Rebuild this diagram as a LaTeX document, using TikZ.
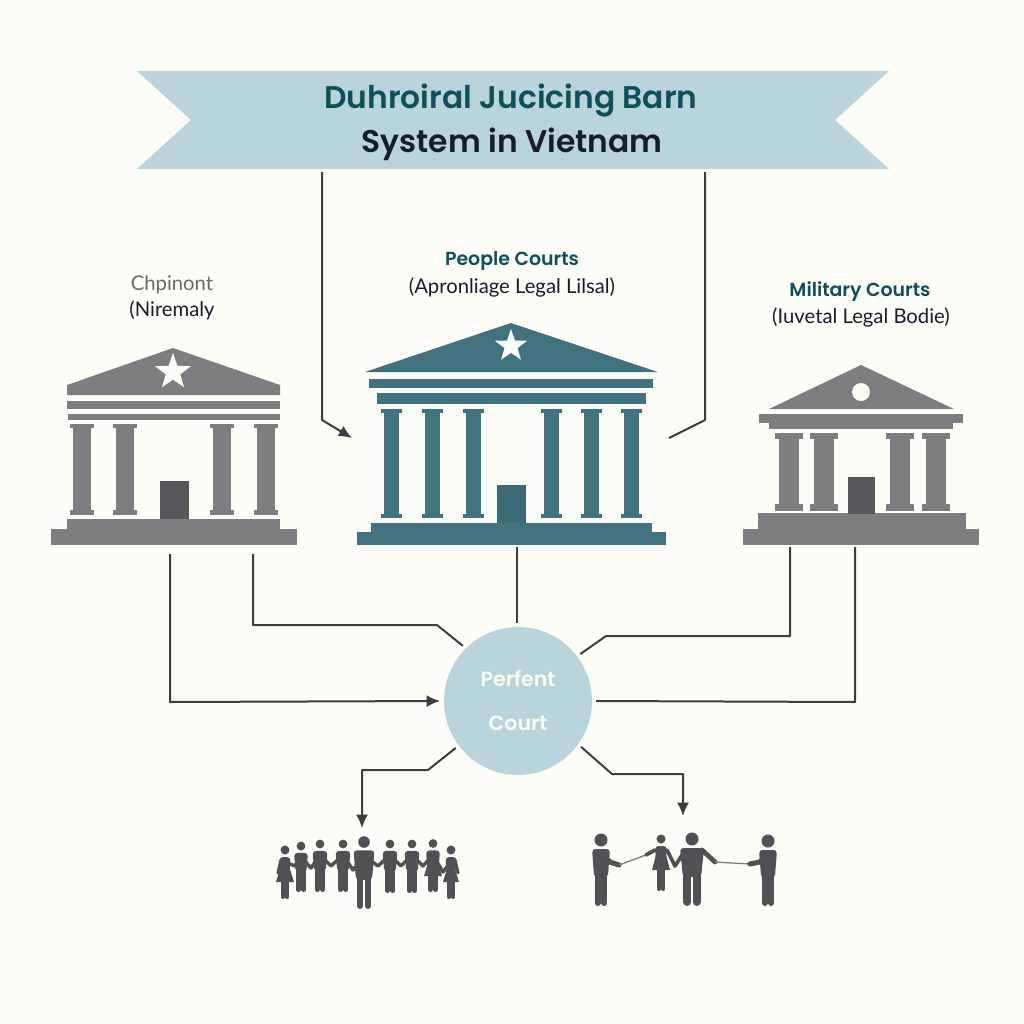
\documentclass[tikz,border=0pt]{standalone}
\usepackage{fontspec}
\setmainfont{Lato}
\newfontfamily\headfont{Poppins SemiBold}
\usetikzlibrary{arrows.meta}
\definecolor{paper}{HTML}{FDFDF7}
\definecolor{ribbon}{HTML}{B9D5DB}
\definecolor{teal}{HTML}{41727F}
\definecolor{tealdoor}{HTML}{3C6A77}
\definecolor{stone}{HTML}{7D7E80}
\definecolor{stonedoor}{HTML}{55575A}
\definecolor{wire}{HTML}{3A3D42}
\definecolor{folk}{HTML}{4F5155}
\definecolor{headink}{HTML}{0F4F5A}
\definecolor{inkdark}{HTML}{161C2C}
\tikzset{
  x=0.75pt,y=-0.75pt,
  link/.style={draw=wire,line width=1.5pt,line join=round},
  linkarrow/.style={link,-{Latex[length=10pt,width=9pt]}},
  footprint/.style={inner sep=0pt,outer sep=0pt,minimum width=#1*0.75pt},
  tallness/.style={minimum height=#1*0.75pt},
  caption/.style={font=\fontsize{15.2}{18}\selectfont,text=inkdark,inner sep=0pt},
  heading/.style={font=\headfont\fontsize{14.2}{18}\selectfont,text=headink,inner sep=0pt},
  limb/.style={draw=folk,line cap=round,line join=round},
}
% column: centre x, capital top, shaft top, base top, base bottom, half widths of capital and shaft
\newcommand{\pillar}[7]{%
  \fill (#1-#6,#2) rectangle (#1+#6,#3);
  \fill (#1-#7,#3) rectangle (#1+#7,#4);
  \fill (#1-#6,#4) rectangle (#1+#6,#5);
}
% standing figure: centre x, head centre y, foot y, head radius, shoulder width
\newcommand{\figurine}[5]{%
  \pgfmathsetmacro{\hh}{#3-#2}
  \pgfmathsetmacro{\tt}{#2+#4+1.5}
  \pgfmathsetmacro{\hp}{#2+0.55*\hh}
  \pgfmathsetmacro{\lw}{#5*0.33}
  \pgfmathsetmacro{\lo}{#5*0.19}
  \fill[folk] (#1,#2) circle (#4);
  \fill[folk,rounded corners=2.6pt]
    (#1-#5/2,\tt+1) -- (#1+#5/2,\tt+1) -- (#1+#5*0.38,\hp+1) -- (#1-#5*0.38,\hp+1) -- cycle;
  \draw[limb,line width=\lw*0.75pt] (#1-\lo,\hp-2) -- (#1-\lo,#3-\lw/2);
  \draw[limb,line width=\lw*0.75pt] (#1+\lo,\hp-2) -- (#1+\lo,#3-\lw/2);
}
\newcommand{\dress}[4]{\fill[folk] (#1-#4*0.45,#2) -- (#1+#4*0.45,#2) -- (#1+#4,#3) -- (#1-#4,#3) -- cycle;}
\begin{document}
\begin{tikzpicture}
\useasboundingbox (0,0) rectangle (1024,1024);
\fill[paper] (0,0) rectangle (1024,1024);

% title ribbon
\fill[ribbon] (137,71) -- (889,71) -- (835,120) -- (889,169) -- (137,169) -- (191,120) -- cycle;
\node[footprint=752,tallness=102] (banner) at (513,121) {};
\node[font=\headfont\fontsize{23.5}{28}\selectfont,text=headink,inner sep=0pt] (title1) at (511,100) {Duhroiral Jucicing Barn};
\node[font=\headfont\fontsize{23.5}{28}\selectfont,text=inkdark,inner sep=0pt] (title2) at (512,144) {System in Vietnam};

% left court
\node[footprint=246,tallness=214] (chp) at (174,447) {};
\begin{scope}[fill=stone]
\fill (67,385) -- (173,348) -- (280,385) -- (280,395) -- (67,395) -- cycle;
\fill (67,401) rectangle (280,409);
\fill (68,414) rectangle (280,420);
\foreach \cx in {82,125,222,266} {\pillar{\cx}{424}{428}{510}{515}{12}{9}}
\fill (67,519) rectangle (280,529);
\fill (51,529) rectangle (297,545);
\fill[stonedoor] (160,481) rectangle (189,519);
\fill[paper] plot[samples at={0,1,...,10},variable=\k]
  ({173+(mod(\k,2)==0?19:7.6)*sin(36*\k)},{372-(mod(\k,2)==0?19:7.6)*cos(36*\k)}) -- cycle;
\end{scope}
\node[font=\fontsize{15.2}{18}\selectfont,text=stone!85!black,inner sep=0pt] (chpname) at (172,285) {Chpinont};
\node[caption] (chpnote) at (172,310) {(Niremaly};

% central court
\node[footprint=317,tallness=218] (peo) at (510.5,438) {};
\begin{scope}[fill=teal]
\fill (365,372) -- (511,323) -- (658,372) -- cycle;
\fill (369,379) rectangle (653,388);
\fill (377,393) rectangle (646,404);
\foreach \cx in {391,432,473,551,591,631} {\pillar{\cx}{409}{413}{514}{518}{10.5}{7.5}}
\fill (371,523) rectangle (652,532);
\fill (357,532) rectangle (666,545);
\fill[tealdoor] (497,485) rectangle (526,523);
\fill[paper] plot[samples at={0,1,...,10},variable=\k]
  ({511+(mod(\k,2)==0?17:6.8)*sin(36*\k)},{346-(mod(\k,2)==0?17:6.8)*cos(36*\k)}) -- cycle;
\end{scope}
\node[heading] (peoname) at (512,261) {People Courts};
\node[caption] (peonote) at (512,287) {(Apronliage Legal Lilsal)};

% right court
\node[footprint=236,tallness=182] (mil) at (861,456) {};
\begin{scope}[fill=stone]
\fill (769,409) -- (861,365) -- (954,409) -- cycle;
\fill (759,414) rectangle (963,423);
\fill (769,423) rectangle (953,429);
\foreach \cx in {789,824,900,936} {\pillar{\cx}{433}{439}{504}{511}{14}{10}}
\fill (758,513) rectangle (966,529);
\fill (743,529) rectangle (979,545);
\fill[stonedoor] (848,477) rectangle (875,514);
\fill[paper] (861,392) circle (9);
\end{scope}
\node[heading] (milname) at (860,292) {Military Courts};
\node[caption] (milnote) at (861,317) {(Iuvetal Legal Bodie)};

% central hub
\node[circle,fill=ribbon,minimum size=148*0.75pt,inner sep=0pt,outer sep=3pt] (hub) at (518,701) {};
\node[font=\headfont\fontsize{15.4}{18}\selectfont,text=paper,inner sep=0pt] (hub1) at (518,679) {Perfent};
\node[font=\headfont\fontsize{15.4}{18}\selectfont,text=paper,inner sep=0pt] (hub2) at (518,723) {Court};

% people under the hub
\node[footprint=190,tallness=82] (crowdA) at (362,869) {};
\node[footprint=190,tallness=94] (crowdB) at (683,863) {};

% hand-holding row
\draw[limb,line width=2.6pt]
  (285,862) -- (295,866) -- (301,857) -- (311,868) -- (320,855) -- (331,866) -- (343,855) -- (353,870)
  -- (364,856) -- (378,866) -- (390,855) -- (401,866) -- (412,855) -- (423,866) -- (433,855) -- (443,872) -- (451,862);
\draw[limb,line width=2.4pt] (281,860) -- (278,873);
\draw[limb,line width=2.4pt] (455,860) -- (458,873);
\figurine{285}{850}{899}{4.5}{11}
\figurine{301}{846}{892}{4.4}{14}
\figurine{320}{844}{892}{4.4}{15}
\figurine{343}{844}{892}{4.4}{15}
\figurine{364}{842}{909}{5.8}{21}
\figurine{390}{844}{893}{4.4}{15}
\figurine{412}{844}{893}{4.4}{15}
\figurine{433}{843.5}{892}{4.4}{14}
\figurine{451}{850}{899}{4.5}{11}
\dress{285}{866}{882}{9}
\dress{433}{860}{876}{9}
\dress{451}{868}{882}{8}

% figures linked by cords
\draw[limb,line width=3.8pt] (604,856) -- (610,862) -- (619,865);
\draw[limb,line width=1pt,draw=stone] (619,865) -- (646,855);
\draw[limb,line width=2.8pt] (646,855) -- (655,850);
\draw[limb,line width=2.8pt] (667,850) -- (675,866) -- (684,852);
\draw[limb,line width=3.6pt] (702,850) -- (715,862);
\draw[limb,line width=1pt,draw=stone] (715,862) -- (750,864);
\draw[limb,line width=3.8pt] (765,856) -- (760,862) -- (750,864);
\figurine{601}{840}{906}{6.5}{18}
\figurine{661}{839}{891}{4.5}{12}
\dress{661}{851}{870}{9}
\figurine{692}{839}{906}{6.5}{24}
\figurine{768}{841}{906}{6.5}{18}

% connectors
\draw[linkarrow] (322,0 |- banner.south) -- (322,420) -- (peo.west);
\draw[link] (705,0 |- banner.south) -- (705,420) -- (peo.east);
\draw[link] (517,0 |- peo.south) -- (517,0 |- hub.north);
\draw[linkarrow] (170,0 |- chp.south) -- (170,702) -- (hub.west);
\draw[link] (253,0 |- chp.south) -- (253,625) -- (437,625) -- (hub.135);
\draw[link] (790,0 |- mil.south) -- (790,636) -- (606,636) -- (hub.37);
\draw[link] (855,0 |- mil.south) -- (855,702) -- (hub.east);
\draw[linkarrow] (hub.217) -- (428,770) -- (362,770) -- (362,0 |- crowdA.north);
\draw[linkarrow] (hub.324) -- (612,774) -- (683,774) -- (683,0 |- crowdB.north);
\end{tikzpicture}
\end{document}
